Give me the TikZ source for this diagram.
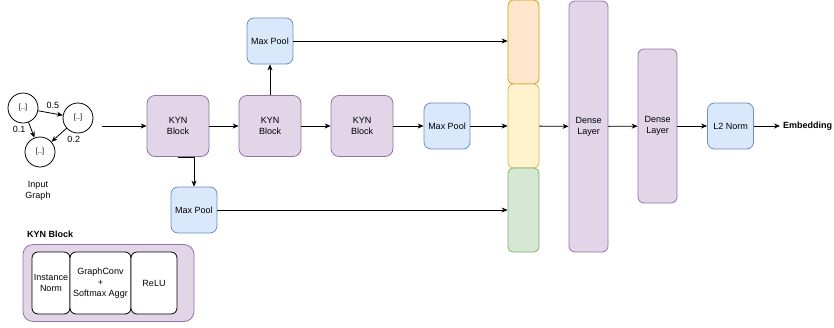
\documentclass[tikz,border=0pt]{standalone}
\usepackage{fontspec}
\setmainfont{Liberation Sans}
\usetikzlibrary{arrows.meta}

\definecolor{kynfill}{HTML}{E1D5E7}
\definecolor{kyndraw}{HTML}{9673A6}
\definecolor{poolfill}{HTML}{DAE8FC}
\definecolor{pooldraw}{HTML}{6C8EBF}
\definecolor{orfill}{HTML}{FFE6CC}
\definecolor{ordraw}{HTML}{D79B00}
\definecolor{yefill}{HTML}{FFF2CC}
\definecolor{yedraw}{HTML}{D6B656}
\definecolor{grfill}{HTML}{D5E8D4}
\definecolor{grdraw}{HTML}{82B366}

\tikzset{
  kyn/.style={draw=kyndraw, fill=kynfill, line width=0.8pt, rounded corners=8pt,
    align=center, inner sep=0pt},
  pool/.style={draw=pooldraw, fill=poolfill, line width=0.8pt, rounded corners=7pt,
    align=center, inner sep=0pt, minimum width=46pt, minimum height=46pt},
  bar/.style={line width=0.8pt, rounded corners=5pt, inner sep=0pt,
    minimum width=31pt, minimum height=84pt},
  vert/.style={draw=black, circle, fill=white, line width=0.8pt, minimum size=30pt,
    inner sep=0pt, font=\fontsize{7.5}{9}\selectfont},
  sub/.style={draw=black, fill=white, line width=0.8pt, rounded corners=6pt,
    align=center, inner sep=0pt, minimum height=62pt},
  conn/.style={-{Stealth[length=6pt,width=5pt]}, line width=0.8pt},
}

\begin{document}
\begin{tikzpicture}[x=1pt, y=-1pt, font=\fontsize{9}{11}\selectfont]
    \useasboundingbox (0,0) rectangle (834,327);

    % input graph
    \node[vert] (g1) at (23,108) {[..]};
    \node[vert] (g2) at (78,118) {[..]};
    \node[vert] (g3) at (40,152) {[..]};
    \draw[conn] (g1) -- (g2) node[pos=0.6, above=1pt] {0.5};
    \draw[conn] (g1) -- (g3) node[pos=0.45, left=2pt] {0.1};
    \draw[conn] (g2) -- (g3) node[pos=0.25, below right=1pt] {0.2};
    \node[align=center] (inlabel) at (38,191) {Input\\Graph};

    % main chain
    \coordinate (in) at (102,126);
    \node[kyn, minimum width=62pt, minimum height=61pt] (kyn1) at (178,126) {KYN\\Block};
    \node[kyn, minimum width=62pt, minimum height=61pt] (kyn2) at (270,126) {KYN\\Block};
    \node[kyn, minimum width=62pt, minimum height=61pt] (kyn3) at (362,126) {KYN\\Block};
    \node[pool] (poolA) at (270,41) {Max Pool};
    \node[pool] (poolB) at (447,126) {Max Pool};
    \node[pool] (poolC) at (194,210) {Max Pool};

    \node[bar, draw=ordraw, fill=orfill] (barA) at (523.5,42) {};
    \node[bar, draw=yedraw, fill=yefill] (barB) at (523.5,126) {};
    \node[bar, draw=grdraw, fill=grfill] (barC) at (523.5,210) {};

    \node[kyn, rounded corners=6pt, minimum width=39pt, minimum height=251pt] (dense1) at (588.5,126.5) {Dense\\Layer};
    \node[kyn, rounded corners=6pt, minimum width=39pt, minimum height=154pt] (dense2) at (657.5,126) {Dense\\Layer};
    \node[pool] (l2) at (730.5,126) {L2 Norm};
    \node[anchor=west, inner sep=3pt, font=\fontsize{9}{11}\selectfont\bfseries] (emb) at (780,126) {Embedding};

    \draw[conn] (in) -- (kyn1);
    \draw[conn] (kyn1) -- (kyn2);
    \draw[conn] (kyn2) -- (kyn3);
    \draw[conn] (kyn3) -- (poolB);
    \draw[conn] (kyn2) -- (poolA);
    \draw[conn] (kyn1.south) -| (poolC.north);
    \draw[conn] (poolA.east) -- (poolA.east -| barA.west);
    \draw[conn] (poolB.east) -- (poolB.east -| barB.west);
    \draw[conn] (poolC.east) -- (poolC.east -| barC.west);
    \draw[conn] (barB) -- (dense1);
    \draw[conn] (dense1) -- (dense2);
    \draw[conn] (dense2) -- (l2);
    \draw[conn] (l2) -- (emb);

    % legend
    \node[anchor=west, inner sep=0pt, font=\fontsize{9}{11}\selectfont\bfseries] (legtitle) at (27,234) {KYN Block};
    \node[kyn, rounded corners=10pt, minimum width=171pt, minimum height=77pt] (legbox) at (108.5,283) {};
    \node[sub, minimum width=38pt] (inorm) at (51,283) {Instance\\Norm};
    \node[sub, minimum width=61pt] (gconv) at (100.5,283) {GraphConv\\+\\Softmax Aggr};
    \node[sub, minimum width=46pt] (relu) at (154,283) {ReLU};
\end{tikzpicture}
\end{document}
